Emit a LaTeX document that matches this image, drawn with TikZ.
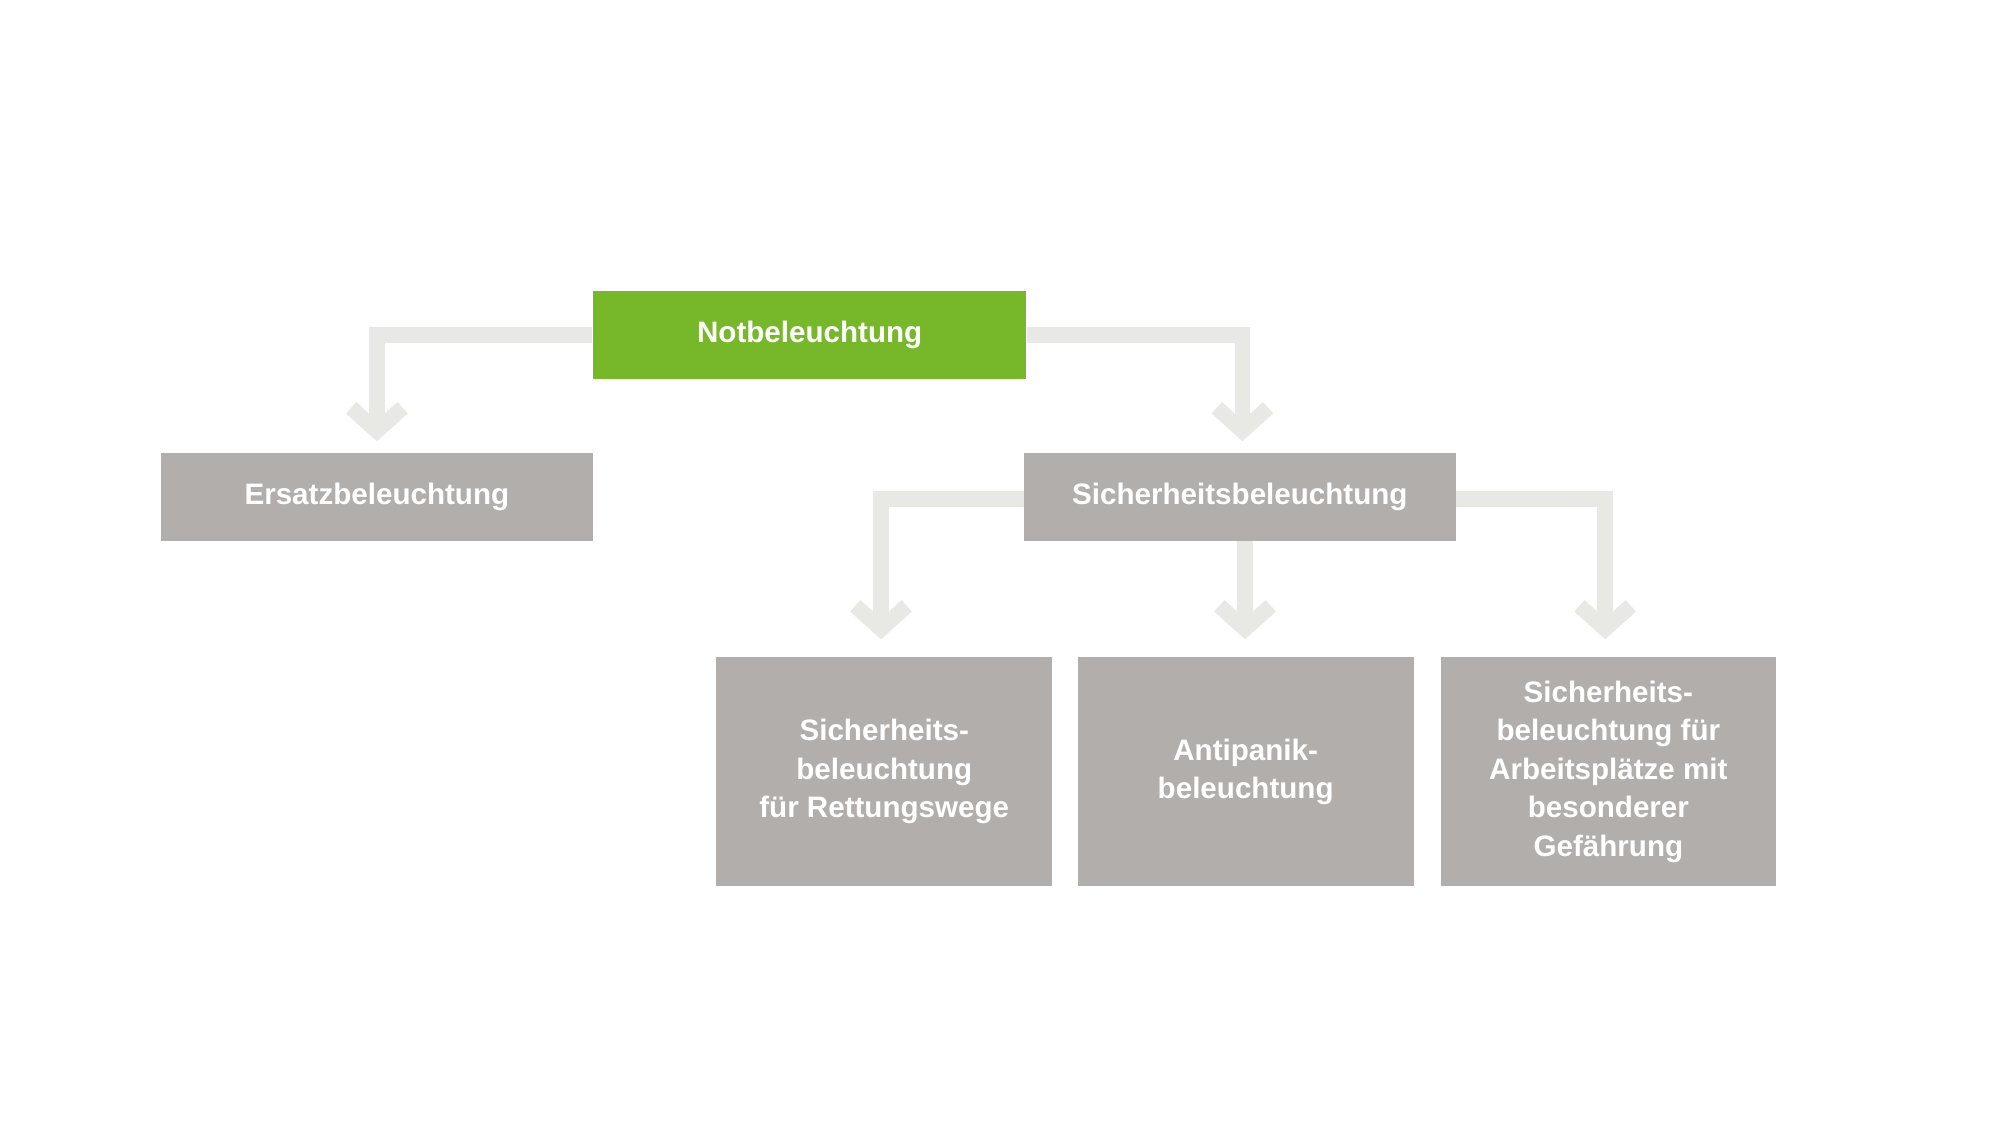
\documentclass[tikz,border=0pt]{standalone}
\usepackage{fontspec}
\setmainfont{Liberation Sans}
\begin{document}
\begin{tikzpicture}[x=0.5pt,y=-0.5pt,
  box/.style={draw=none,fill=boxgray,text=white,font=\bfseries\fontsize{11.5}{15}\selectfont,align=center,inner sep=0pt},
  conn/.style={draw=linegray,line width=6pt},
  chev/.style={draw=linegray,line width=6pt,miter limit=10}]
\definecolor{boxgray}{HTML}{B1AEAB}
\definecolor{linegray}{HTML}{E8E8E4}
\definecolor{green}{HTML}{76B82A}
\useasboundingbox (0,0) rectangle (1555,875);
\coordinate (t1) at (293,335);
\coordinate (t2) at (966,335);
\coordinate (t3) at (685,489);
\coordinate (t4) at (968,489);
\coordinate (t5) at (1248,489);
\coordinate (sw) at (797,388);
\coordinate (se) at (1131,388);
\coordinate (c1) at (685,388);
\coordinate (c2) at (1248,388);
\node[box,fill=green,minimum width=168.5pt,minimum height=34.5pt] (not) at (629.5,260.5) {Notbeleuchtung};
\node[box,minimum width=168pt,minimum height=34.5pt] (ers) at (293,386.5) {Ersatzbeleuchtung};
\draw[conn] (not.west) -- (t1 |- not.west) -- (t1);
\draw[conn] (not.east) -- (t2 |- not.east) -- (t2);
\draw[conn] (sw) -- (c1) -- (t3);
\draw[conn] (968,420) -- (t4);
\draw[conn] (se) -- (c2) -- (t5);
\node[box,minimum width=168pt,minimum height=34.5pt] (sich) at (964,386.5) {Sicherheitsbeleuchtung};
\node[box,minimum width=130.5pt,minimum height=89pt] (b1) at (687.5,600) {Sicherheits-\\beleuchtung\\für Rettungswege};
\node[box,minimum width=130.5pt,minimum height=89pt] (b2) at (968.5,600) {Antipanik-\\beleuchtung};
\node[box,minimum width=130.5pt,minimum height=89pt] (b3) at (1250.5,600) {Sicherheits-\\beleuchtung für\\Arbeitsplätze mit\\besonderer\\Gefährung};
\foreach \t in {t1,t2,t3,t4,t5}{
  \draw[chev] ([xshift=-10pt,yshift=9pt]\t) -- (\t) -- ([xshift=10pt,yshift=9pt]\t);
}
\end{tikzpicture}
\end{document}
